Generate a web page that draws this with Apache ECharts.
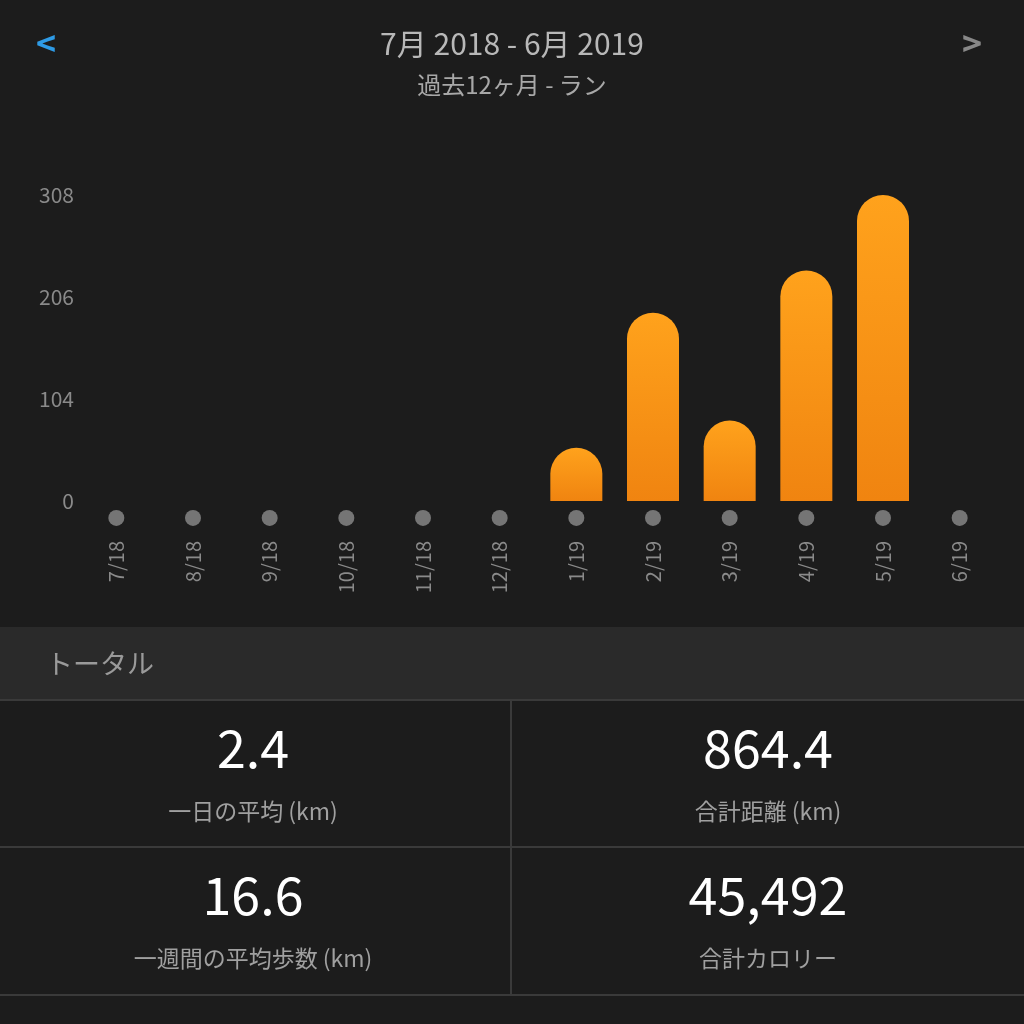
<!DOCTYPE html><html><head><meta charset="utf-8"><script src="https://cdn.jsdelivr.net/npm/echarts@6/dist/echarts.min.js"></script>
<style>html,body{margin:0;background:#1c1c1c}#c{width:1024px;height:1024px}</style></head><body><div id="c"></div><script>
const categories=['7/18','8/18','9/18','10/18','11/18','12/18','1/19','2/19','3/19','4/19','5/19','6/19'];
const distance=[0,0,0,0,0,0,53.5,189.5,81,232,308.4,0];
const yTicks=['0','104','206','308'];
const statValues=['2.4','864.4','16.6','45,492'];
const statLabels=['一日の平均 (km)','合計距離 (km)','一週間の平均歩数 (km)','合計カロリー'];
const F='"Noto Sans CJK JP","Noto Sans",sans-serif';
const ch=echarts.init(document.getElementById('c'));
const g=[];
g.push({type:'rect',shape:{x:0,y:627,width:1024,height:73},style:{fill:'#2a2a2a'}});
g.push({type:'text',x:46,y:664,style:{text:'トータル',fill:'#9a9a9a',font:'27px '+F,verticalAlign:'middle'}});
[700,847,995].forEach(y=>g.push({type:'rect',shape:{x:0,y:y-1,width:1024,height:2},style:{fill:'#3a3a3a'}}));
g.push({type:'rect',shape:{x:510,y:700,width:2,height:295},style:{fill:'#3a3a3a'}});
const cx=[253,768],vy=[748,895],ly=[811,958];
for(let i=0;i<4;i++){const c=i%2,r=Math.floor(i/2);
g.push({type:'text',x:cx[c],y:vy[r],style:{text:statValues[i],fill:'#fff',font:'52px '+F,align:'center',verticalAlign:'middle'}});
g.push({type:'text',x:cx[c],y:ly[r],style:{text:statLabels[i],fill:'#a0a0a0',font:'23px '+F,align:'center',verticalAlign:'middle'}});}
g.push({type:'text',x:46,y:43,style:{text:'<',fill:'#2e9be6',font:'bold 34px '+F,align:'center',verticalAlign:'middle'}});
g.push({type:'text',x:972,y:43,style:{text:'>',fill:'#888',font:'bold 34px '+F,align:'center',verticalAlign:'middle'}});
ch.setOption({backgroundColor:'#1c1c1c',animation:false,
title:{text:'7月 2018 - 6月 2019',subtext:'過去12ヶ月 - ラン',left:'center',top:24,itemGap:14,
textStyle:{color:'#b8b8b8',fontSize:30,fontWeight:'normal',fontFamily:F},subtextStyle:{color:'#a8a8a8',fontSize:24,fontFamily:F}},
grid:{left:78,right:26,top:195,bottom:523},
xAxis:{type:'category',data:categories,axisLine:{show:false},axisTick:{show:false},
axisLabel:{rotate:90,margin:40,color:'#8a8a8a',fontSize:20,fontFamily:F}},
yAxis:{type:'value',min:0,max:308,interval:308/3,splitLine:{show:false},
axisLabel:{color:'#8a8a8a',fontSize:21,fontFamily:F,margin:4,formatter:(v)=>yTicks[Math.round(v/(308/3))]}},
graphic:g,
series:[{type:'bar',data:distance,barWidth:52,itemStyle:{borderRadius:[26,26,0,0],color:new echarts.graphic.LinearGradient(0,0,0,1,[{offset:0,color:'#ffa21c'},{offset:1,color:'#f08410'}])}},
{type:'scatter',data:categories.map(()=>-17),symbolSize:16,clip:false,itemStyle:{color:'#8c8c8c'},silent:true}]});
</script></body></html>
